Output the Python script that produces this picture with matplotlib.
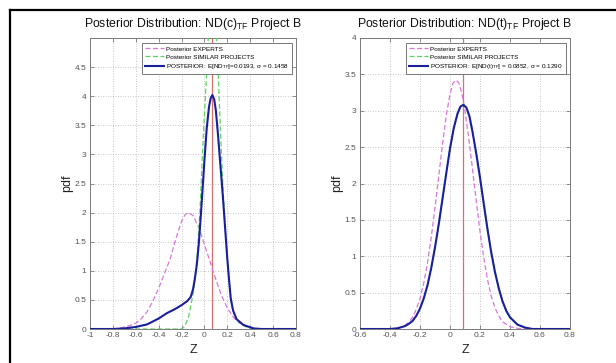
import matplotlib
matplotlib.use('Agg')
import matplotlib.pyplot as plt
from matplotlib.lines import Line2D

plt.rcParams['font.family'] = ['Liberation Sans', 'DejaVu Sans']
plt.rcParams['mathtext.default'] = 'regular'

# ---------------- data: left panel ND(c)_TF ----------------
c_title = 'Posterior Distribution: ND(c)$_{TF}$ Project B'
c_post_label = 'POSTERIOR: E[ND$_{TF}$]=0.0193, σ = 0.1458'
c_mean_line = 0.069

c_exp_z = [-1.0, -0.8, -0.75, -0.7, -0.65, -0.6, -0.55, -0.5, -0.45, -0.4, -0.35, -0.3,
           -0.25, -0.2, -0.17, -0.14, -0.1, -0.05, 0.0, 0.05, 0.1, 0.15, 0.2, 0.25,
           0.3, 0.35, 0.4, 0.45, 0.8]
c_exp_pdf = [0.0, 0.0, 0.015, 0.035, 0.06, 0.1, 0.18, 0.3, 0.48, 0.7, 0.95, 1.2,
             1.55, 1.85, 1.96, 2.0, 1.95, 1.75, 1.45, 1.15, 0.85, 0.57, 0.36, 0.21,
             0.11, 0.06, 0.025, 0.0, 0.0]

c_sim_z = [-1.0, -0.2, -0.18, -0.16, -0.14, -0.126, -0.1, -0.082, -0.06, -0.04, -0.02,
           0.0, 0.02, 0.04, 0.07, 0.1, 0.12, 0.14, 0.16, 0.18, 0.2, 0.22, 0.25, 0.3,
           0.35, 0.4, 0.45, 0.8]
c_sim_pdf = [0.0, 0.0, 0.03, 0.1, 0.2, 0.33, 0.6, 0.84, 1.36, 2.0, 2.9,
             3.7, 4.4, 5.3, 6.0, 5.3, 4.4, 3.4, 2.5, 1.8, 1.2, 0.7, 0.3, 0.12,
             0.05, 0.01, 0.0, 0.0]

c_post_z = [-1.0, -0.8, -0.7, -0.6, -0.5, -0.4, -0.33, -0.25, -0.2, -0.15, -0.12, -0.1,
            -0.085, -0.067, -0.05, -0.035, -0.02, 0.0, 0.02, 0.04, 0.055, 0.069, 0.085,
            0.1, 0.12, 0.14, 0.16, 0.18, 0.2, 0.215, 0.23, 0.25, 0.28, 0.34, 0.43, 0.5, 0.8]
c_post_pdf = [0.0, 0.0, 0.01, 0.035, 0.08, 0.18, 0.27, 0.35, 0.41, 0.48, 0.55, 0.68,
              0.85, 1.1, 1.45, 1.85, 2.3, 2.9, 3.45, 3.82, 3.97, 4.02, 3.95,
              3.75, 3.3, 2.8, 2.3, 1.75, 1.2, 0.85, 0.52, 0.32, 0.17, 0.07, 0.01, 0.0, 0.0]

c_xticks = [-1, -0.8, -0.6, -0.4, -0.2, 0, 0.2, 0.4, 0.6, 0.8]
c_xticklabels = ['-1', '-0.8', '-0.6', '-0.4', '-0.2', '0', '0.2', '0.4', '0.6', '0.8']
c_yticks = [0, 0.5, 1, 1.5, 2, 2.5, 3, 3.5, 4, 4.5]
c_yticklabels = ['0', '0.5', '1', '1.5', '2', '2.5', '3', '3.5', '4', '4.5']
c_xlim = (-1, 0.8)
c_ylim = (0, 5)

# ---------------- data: right panel ND(t)_TF ----------------
t_title = 'Posterior Distribution: ND(t)$_{TF}$ Project B'
t_post_label = 'POSTERIOR: E[ND(t)$_{TF}$] = 0.0852, σ = 0.1290'
t_mean_line = 0.085

t_exp_z = [-0.6, -0.4, -0.35, -0.325, -0.3, -0.275, -0.25, -0.225, -0.2, -0.175, -0.15,
           -0.125, -0.1, -0.075, -0.05, -0.025, 0.0, 0.02, 0.04, 0.06, 0.08, 0.1, 0.125,
           0.15, 0.175, 0.2, 0.225, 0.25, 0.275, 0.3, 0.325, 0.35, 0.4, 0.45, 0.5, 0.8]
t_exp_pdf = [0.0, 0.0, 0.01, 0.025, 0.05, 0.095, 0.16, 0.27, 0.42, 0.63, 0.91,
             1.26, 1.67, 2.1, 2.54, 2.93, 3.23, 3.38, 3.42, 3.38, 3.23, 3.0, 2.62,
             2.2, 1.76, 1.34, 0.98, 0.68, 0.45, 0.29, 0.18, 0.1, 0.03, 0.01, 0.0, 0.0]

t_sim_z = [-0.6, -0.4, -0.35, -0.3, -0.275, -0.25, -0.225, -0.2, -0.175, -0.15, -0.125,
           -0.1, -0.075, -0.05, -0.025, 0.0, 0.025, 0.05, 0.07, 0.09, 0.11, 0.13, 0.15,
           0.175, 0.2, 0.225, 0.25, 0.275, 0.3, 0.325, 0.35, 0.375, 0.4, 0.45, 0.5, 0.55, 0.8]
t_sim_pdf = [0.0, 0.0, 0.01, 0.04, 0.07, 0.11, 0.18, 0.29, 0.43, 0.61, 0.85,
             1.13, 1.45, 1.8, 2.15, 2.48, 2.76, 2.95, 3.05, 3.08, 3.05, 2.93, 2.73,
             2.43, 2.1, 1.74, 1.39, 1.07, 0.8, 0.57, 0.39, 0.26, 0.17, 0.06, 0.02, 0.0, 0.0]

t_post_z = [-0.6, -0.4, -0.35, -0.3, -0.275, -0.25, -0.225, -0.2, -0.175, -0.15, -0.125,
            -0.1, -0.075, -0.05, -0.025, 0.0, 0.025, 0.05, 0.07, 0.09, 0.11, 0.13, 0.15,
            0.175, 0.2, 0.225, 0.25, 0.275, 0.3, 0.325, 0.35, 0.375, 0.4, 0.45, 0.5, 0.55, 0.8]
t_post_pdf = [0.0, 0.0, 0.01, 0.04, 0.07, 0.11, 0.18, 0.28, 0.42, 0.6, 0.84,
              1.12, 1.44, 1.79, 2.14, 2.48, 2.76, 2.96, 3.06, 3.08, 3.04, 2.92, 2.71,
              2.41, 2.08, 1.72, 1.37, 1.05, 0.78, 0.56, 0.38, 0.25, 0.16, 0.06, 0.02, 0.0, 0.0]

t_xticks = [-0.6, -0.4, -0.2, 0, 0.2, 0.4, 0.6, 0.8]
t_xticklabels = ['-0.6', '-0.4', '-0.2', '0', '0.2', '0.4', '0.6', '0.8']
t_yticks = [0, 0.5, 1, 1.5, 2, 2.5, 3, 3.5, 4]
t_yticklabels = ['0', '0.5', '1', '1.5', '2', '2.5', '3', '3.5', '4']
t_xlim = (-0.6, 0.8)
t_ylim = (0, 4)

legend_labels = ['Posterior EXPERTS', 'Posterior SIMILAR PROJECTS']
x_label = 'Z'
y_label = 'pdf'

# ---------------- styling ----------------
C_EXP = '#d877d8'
C_SIM = '#5fd35f'
C_POST = '#1a1f9c'
C_RED = '#d87070'
C_AX = '#7a7a7a'

W, H = 616, 363
fig = plt.figure(figsize=(W / 100, H / 100), dpi=100)
fig.patch.set_facecolor('white')


def panel(rect, title, ez, ep, sz, sp, pz, pp, meanx, postlabel,
          xt, xtl, yt, ytl, xlim, ylim):
    ax = fig.add_axes(rect)
    ax.set_xlim(*xlim)
    ax.set_ylim(*ylim)
    ax.grid(True, linestyle=(0, (1, 2)), color='#b5b5b5', linewidth=0.6)
    ax.set_axisbelow(True)
    ax.axvline(meanx, color=C_RED, linewidth=0.9, zorder=2)
    l1, = ax.plot(ez, ep, color=C_EXP, linewidth=0.9, dashes=(4, 2), zorder=3)
    l2, = ax.plot(sz, sp, color=C_SIM, linewidth=0.9, dashes=(4, 2), zorder=3)
    l3, = ax.plot(pz, pp, color=C_POST, linewidth=1.5, zorder=4)
    ax.set_xticks(xt)
    ax.set_xticklabels(xtl)
    ax.set_yticks(yt)
    ax.set_yticklabels(ytl)
    ax.tick_params(direction='in', length=3, width=0.6, colors=C_AX,
                   labelsize=6, labelcolor='#555555', top=True, right=True, pad=2.5)
    for s in ax.spines.values():
        s.set_color(C_AX)
        s.set_linewidth(0.7)
    ax.set_title(title, fontsize=8.8, pad=8, color='#111111')
    ax.set_xlabel(x_label, fontsize=9, labelpad=3, color='#222222')
    ax.set_ylabel(y_label, fontsize=9, labelpad=1, color='#222222')
    leg = ax.legend([l1, l2, l3], legend_labels + [postlabel], loc='upper right',
                    bbox_to_anchor=(0.997, 0.994), fontsize=4.6, handlelength=3.0,
                    handletextpad=0.3, borderpad=0.5, labelspacing=0.4,
                    fancybox=False, framealpha=1, edgecolor='#777777')
    leg.get_frame().set_linewidth(0.7)
    return ax


bottom = (H - 329) / H
height = (329 - 38) / H
panel([90 / W, bottom, 206 / W, height], c_title, c_exp_z, c_exp_pdf, c_sim_z, c_sim_pdf,
      c_post_z, c_post_pdf, c_mean_line, c_post_label,
      c_xticks, c_xticklabels, c_yticks, c_yticklabels, c_xlim, c_ylim)
panel([360 / W, bottom, 210 / W, height], t_title, t_exp_z, t_exp_pdf, t_sim_z, t_sim_pdf,
      t_post_z, t_post_pdf, t_mean_line, t_post_label,
      t_xticks, t_xticklabels, t_yticks, t_yticklabels, t_xlim, t_ylim)

# document frame (top and left border lines)
fig.add_artist(Line2D([10 / W, 1.0], [1 - 10 / H, 1 - 10 / H], transform=fig.transFigure,
                      color='black', linewidth=1.6))
fig.add_artist(Line2D([10 / W, 10 / W], [0.0, 1 - 10 / H], transform=fig.transFigure,
                      color='black', linewidth=1.6))

fig.savefig('out.png', dpi=100)
